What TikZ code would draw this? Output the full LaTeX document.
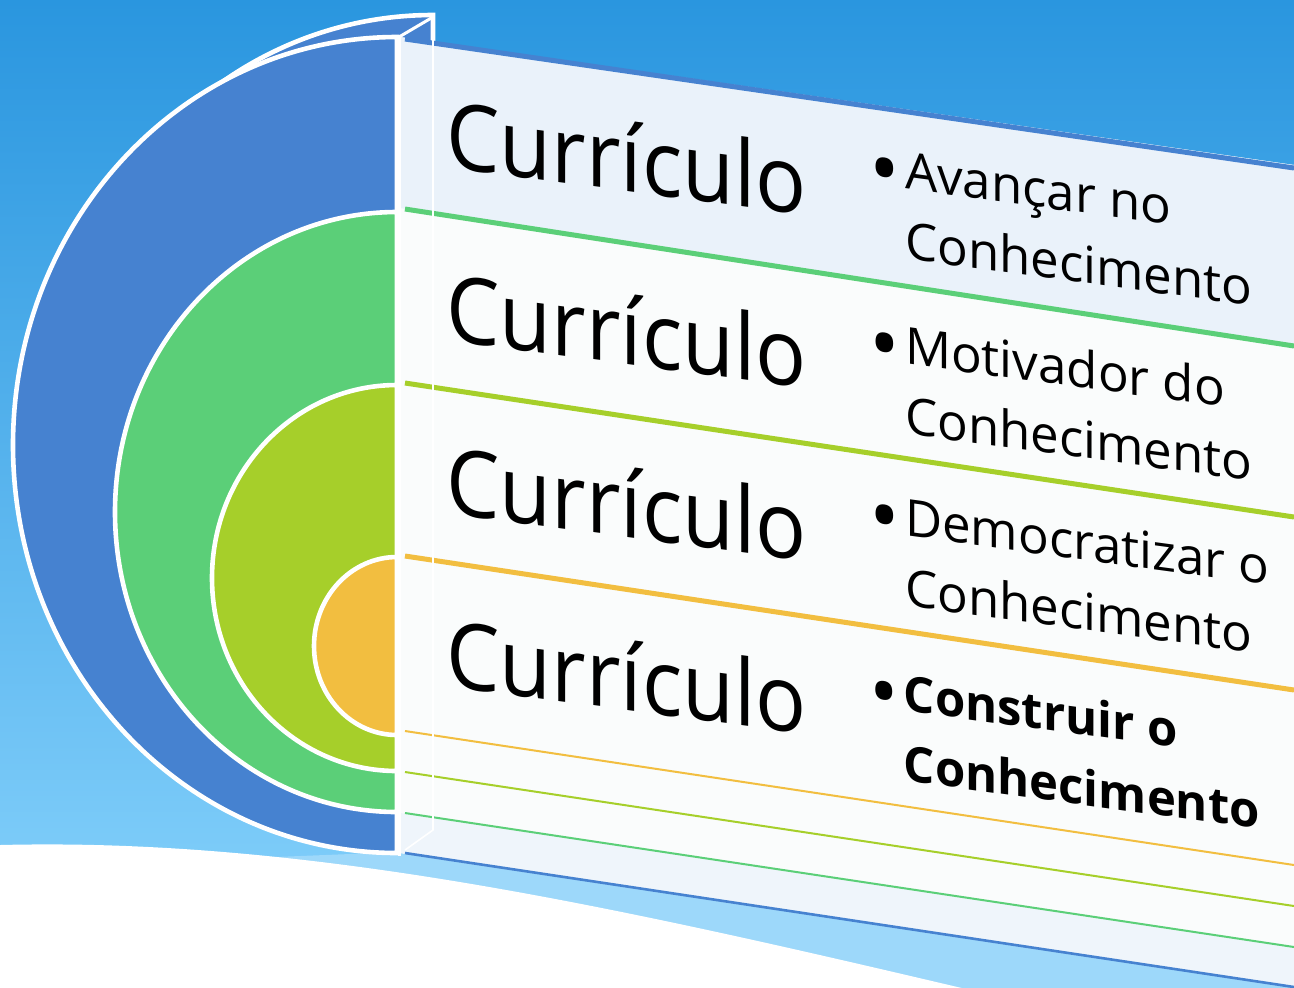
\documentclass[tikz,border=0pt]{standalone}
\usepackage{fontspec}
\setmainfont{Open Sans}
\usepackage{xcolor}
\usepackage{tikz}

\definecolor{bgtop}{HTML}{2A96DF}
\definecolor{bgbot}{HTML}{80CEFA}
\definecolor{bgband}{HTML}{9DD8FA}
\definecolor{ringblue}{HTML}{4682D0}
\definecolor{ringgreen}{HTML}{5BCF78}
\definecolor{ringlime}{HTML}{A6CF2A}
\definecolor{ringorange}{HTML}{F2BE40}
\definecolor{paneltop}{HTML}{EAF2FA}
\definecolor{panelmid}{HTML}{FAFCFC}
\definecolor{panelbot}{HTML}{EFF5FB}

\newcommand{\bigdot}{\raisebox{-5.5pt}{\scalebox{1.6}{\textbullet}}}

\tikzset{
  ring/.style = {draw = white, line width = 2.3pt, fill = #1},
  sepline/.style = {draw = #1, line width = 2.5pt},
  thinline/.style = {draw = #1, line width = 1pt},
  bigword/.style = {font = \fontsize{46}{46}\selectfont, xscale = 0.92, yslant = -0.122, anchor = base west, inner sep = 0pt},
  itemtext/.style = {font = \fontsize{25.5}{35}\selectfont, yslant = -0.135, anchor = base west, inner sep = 0pt},
}

\begin{document}
\begin{tikzpicture}[x = 0.5pt, y = -0.5pt]
    \useasboundingbox (0, 0) rectangle (1294, 987);
    \clip (0, 0) rectangle (1294, 987);
    {
      \shade[top color = bgtop, bottom color = bgbot] (0, 0) rectangle (1294, 900);
      \fill[bgband] (250, 858) -- (400, 852) -- (1294, 985) -- (1294, 1000) -- (250, 1000) -- cycle;
      \fill[white] (0, 845) .. controls (400, 835) and (800, 955) .. (1294, 1065) -- (0, 1065) -- cycle;
    }
    {
      \filldraw[ring = ringblue] (433, 15) arc[start angle = 270, end angle = 180, x radius = 384, y radius = 408] -- (433, 423) -- cycle;
    }
    {
      \fill[panelmid] (400, 37) -- (1294, 165) -- (1294, 987) -- (400, 853) -- cycle;
      \fill[paneltop] (400, 37) -- (1294, 165) -- (1294, 347) -- (400, 208) -- cycle;
      \fill[panelbot] (400, 813) -- (1294, 947) -- (1294, 987) -- (400, 853) -- cycle;
      \draw[sepline = ringblue] (405, 39) -- (1294, 168);
      \draw[sepline = ringgreen] (405, 209) -- (1294, 346);
      \draw[sepline = ringlime] (405, 383) -- (1294, 517);
      \draw[sepline = ringorange] (405, 556) -- (1294, 690);
      \draw[thinline = ringorange] (405, 731) -- (1294, 865);
      \draw[thinline = ringlime] (405, 772) -- (1294, 906);
      \draw[thinline = ringgreen] (405, 813) -- (1294, 947);
      \draw[thinline = ringblue, line width = 1.3pt] (405, 853) -- (1294, 987);
    }
    {
      \filldraw[ring = ringblue] (397, 37) arc[start angle = 270, end angle = 90, x radius = 384, y radius = 408] -- cycle;
      \filldraw[ring = ringgreen] (397, 212) arc[start angle = 270, end angle = 90, x radius = 282, y radius = 300] -- cycle;
      \filldraw[ring = ringlime] (397, 385) arc[start angle = 270, end angle = 90, x radius = 185, y radius = 193] -- cycle;
      \filldraw[ring = ringorange] (397, 557) arc[start angle = 270, end angle = 90, x radius = 83, y radius = 89] -- cycle;
    }
    {
      \draw[white, line width = 1.5pt] (399, 37) -- (399, 856);
      \draw[white, line width = 1.5pt] (399, 37) -- (433, 17);
      \draw[white, line width = 0.8pt] (433, 17) -- (433, 830) -- (405, 850);
    }
    \node[bigword] (cur1) at (446, 167) {Currículo};
    \node[bigword] (cur2) at (446, 340) {Currículo};
    \node[bigword] (cur3) at (446, 513) {Currículo};
    \node[bigword] (cur4) at (446, 686) {Currículo};
    \node[itemtext] (item1) at (869, 184) {\begin{tabular}[t]{@{}l@{\hspace{2.5pt}}l@{}}\bigdot & Avançar no\\ & Conhecimento\end{tabular}};
    \node[itemtext] (item2) at (869, 359) {\begin{tabular}[t]{@{}l@{\hspace{2.5pt}}l@{}}\bigdot & Motivador do\\ & Conhecimento\end{tabular}};
    \node[itemtext] (item3) at (869, 531) {\begin{tabular}[t]{@{}l@{\hspace{2.5pt}}l@{}}\bigdot & Democratizar o\\ & Conhecimento\end{tabular}};
    \node[itemtext, font = \fontsize{24.5}{35}\selectfont] (item4) at (869, 706) {\begin{tabular}[t]{@{}l@{\hspace{2.5pt}}l@{}}\bigdot & \bfseries Construir o\\ & \bfseries Conhecimento\end{tabular}};
  \end{tikzpicture}
\end{document}
